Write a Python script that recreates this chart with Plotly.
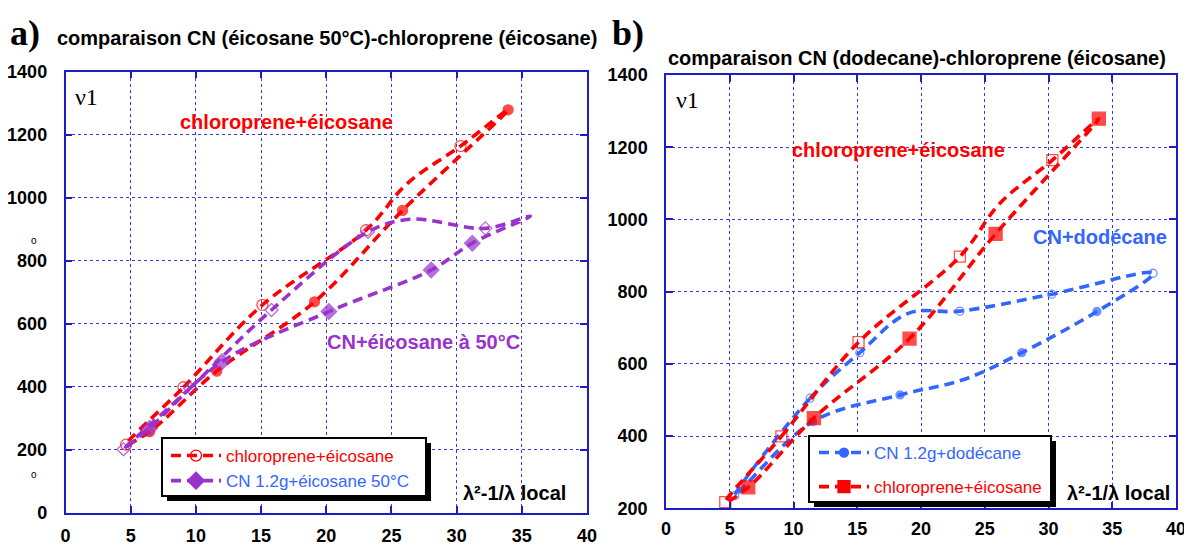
import plotly.graph_objects as go

W, H = 1192, 546
OFF = 8  # page body margin of the browser

# ---------------- data ----------------
# chloroprene + eicosane (same series in both panels), loop: loading (open) then unloading (filled)
chloro_x = [4.65, 9.05, 15.1, 23.05, 26.2, 30.3, 33.95, 25.85, 19.1, 11.6, 6.45, 4.65]
chloro_y = [217, 399, 660, 897, 1045, 1164, 1279, 960, 670, 450, 258, 217]
chloro_kind = ["open", "open", "open", "open", "none", "open", "filled",
               "filled", "filled", "filled", "filled", "none"]

# CN 1.2g + eicosane 50°C (panel a)
cn_eico_x = [4.45, 9.55, 15.8, 23.2, 26.5, 32.2, 35.65, 31.2, 28.05, 20.2, 12.0, 6.45, 4.45]
cn_eico_y = [202, 396, 644, 892, 932, 903, 942, 856, 771, 639, 480, 269, 202]
cn_eico_kind = ["open", "open", "open", "open", "none", "open", "none",
                "filled", "filled", "filled", "filled", "filled", "none"]

# CN 1.2g + dodecane (panel b)
cn_dode_x = [5.4, 11.3, 15.2, 19.0, 23.05, 30.25, 38.2, 33.8, 27.9, 23.3, 18.35, 11.5, 5.4]
cn_dode_y = [235, 505, 631, 740, 746, 793, 851, 745, 631, 556, 514, 440, 235]
cn_dode_kind = ["open", "open", "open", "none", "open", "open", "open",
                "filled", "filled", "none", "filled", "filled", "none"]

x_ticks = [0, 5, 10, 15, 20, 25, 30, 35, 40]
y_ticks_a = [0, 200, 400, 600, 800, 1000, 1200, 1400]
y_ticks_b = [200, 400, 600, 800, 1000, 1200, 1400]

title_a = "comparaison CN (éicosane 50°C)-chloroprene (éicosane)"
title_b = "comparaison CN (dodecane)-chloroprene (éicosane)"
name_chloro = "chloroprene+éicosane"
name_cn_eico = "CN 1.2g+éicosane 50°C"
name_cn_dode = "CN 1.2g+dodécane"

# ---------------- styles ----------------
RED = "#ff0000"
PURPLE = "#9933cc"
BLUE = "#3366ff"
AXIS = "#1c1cc8"
GRID = "#3a3ad8"
DASH = "10px,6px"
SANS = "Liberation Sans, Arial, sans-serif"
SERIF = "Liberation Serif, Times New Roman, serif"


def px(x):
    return (x - OFF) / W


def py(y):
    return 1 - (y - OFF) / H


def marker_style(kind, open_sym, fill_sym, open_size, fill_size, color):
    sym = [open_sym if k == "open" else fill_sym for k in kind]
    size = [open_size if k == "open" else (fill_size if k == "filled" else 0) for k in kind]
    return dict(symbol=sym, size=size, color=color, line=dict(color=color, width=1.3))


fig = go.Figure()


def add_series(x, y, kind, color, open_sym, fill_sym, osz, fsz, xa, ya):
    fig.add_trace(go.Scatter(
        x=x, y=y, mode="lines+markers", xaxis=xa, yaxis=ya, showlegend=False,
        line=dict(color=color, width=3.6, dash=DASH, shape="spline", smoothing=1),
        marker=marker_style(kind, open_sym, fill_sym, osz, fsz, color),
        hoverinfo="skip"))


# panel a
add_series(chloro_x, chloro_y, chloro_kind, RED, "circle-open", "circle", 11, 10, "x", "y")
add_series(cn_eico_x, cn_eico_y, cn_eico_kind, PURPLE, "diamond-open", "diamond", 10, 12, "x", "y")
# panel b
add_series(cn_dode_x, cn_dode_y, cn_dode_kind, BLUE, "circle-open", "circle", 8, 8, "x2", "y2")
add_series(chloro_x, chloro_y, chloro_kind, RED, "square-open", "square", 11, 13, "x2", "y2")


# legend entries
def legend_entry(name, line_color, text_color, sym, size, legend, group):
    fig.add_trace(go.Scatter(
        x=[None], y=[None], mode="lines+markers", legend=legend, legendgroup=group,
        name=f'<span style="color:{text_color}">{name}</span>',
        line=dict(color=line_color, width=3.6, dash=DASH),
        marker=dict(symbol=sym, size=size, color=line_color, line=dict(color=line_color, width=1.3)),
        xaxis="x", yaxis="y"))


legend_entry(name_chloro, RED, RED, "circle-open", 11, "legend", "a1")
legend_entry(name_cn_eico, PURPLE, BLUE, "diamond", 13, "legend", "a2")
legend_entry(name_cn_dode, BLUE, BLUE, "circle", 9, "legend2", "b1")
legend_entry(name_chloro, RED, RED, "square", 12, "legend2", "b2")

axis_common = dict(
    showline=True, linecolor=AXIS, linewidth=1.5, mirror="ticks",
    ticks="inside", ticklen=7, tickwidth=1.5, tickcolor=AXIS,
    showgrid=True, gridcolor=GRID, gridwidth=1, griddash="dot",
    zeroline=False, automargin=False,
    tickfont=dict(family=SANS, size=18, color="black", weight="bold"),
)

fig.update_layout(
    width=W, height=H,
    margin=dict(l=0, r=0, t=0, b=0, pad=0, autoexpand=False),
    paper_bgcolor="white", plot_bgcolor="white",
    xaxis=dict(domain=[px(65.5), px(587)], range=[0, 40], tickvals=x_ticks,
               anchor="y", ticklabelstandoff=6, **axis_common),
    yaxis=dict(domain=[py(513), py(71.7)], range=[0, 1400], tickvals=y_ticks_a,
               anchor="x", ticklabelstandoff=13, **axis_common),
    xaxis2=dict(domain=[px(666), px(1176)], range=[0, 40], tickvals=x_ticks,
                anchor="y2", ticklabelstandoff=3, **axis_common),
    yaxis2=dict(domain=[py(508.3), py(75)], range=[200, 1400], tickvals=y_ticks_b,
                anchor="x2", ticklabelstandoff=13, **axis_common),
    legend=dict(x=px(166), y=py(438), xanchor="left", yanchor="top",
                bgcolor="rgba(0,0,0,0)", borderwidth=0, itemwidth=50,
                font=dict(family=SANS, size=17, color="black"),
                tracegroupgap=0, traceorder="grouped"),
    legend2=dict(x=px(814), y=py(435), xanchor="left", yanchor="top",
                 bgcolor="rgba(0,0,0,0)", borderwidth=0, itemwidth=50,
                 font=dict(family=SANS, size=17, color="black"),
                 tracegroupgap=9, traceorder="grouped"),
    showlegend=True,
)

# legend boxes with drop shadow
shapes = []
for (x0, y0, x1, y1) in [(162, 438, 426, 496), (809, 436, 1051, 502)]:
    shapes.append(dict(type="rect", xref="paper", yref="paper", layer="above",
                       x0=px(x0 + 5), x1=px(x1 + 5), y0=py(y1 + 5), y1=py(y0 + 5),
                       fillcolor="black", line=dict(width=0)))
    shapes.append(dict(type="rect", xref="paper", yref="paper", layer="above",
                       x0=px(x0), x1=px(x1), y0=py(y1), y1=py(y0),
                       fillcolor="white", line=dict(color="black", width=2)))
fig.update_layout(shapes=shapes)


def note(text, x, y, size, color="black", family=SANS, weight="bold"):
    fig.add_annotation(text=text, x=px(x), y=py(y), xref="paper", yref="paper",
                       xanchor="left", yanchor="middle", showarrow=False,
                       font=dict(family=family, size=size, color=color, weight=weight))


note("a)", 8, 33, 36, family=SERIF)
note(title_a, 55, 38, 20)
note("b)", 610, 33, 36, family=SERIF)
note(title_b, 666, 58, 20)
note("ν1", 73, 97, 24, family=SERIF, weight="normal")
note("ν1", 674, 100, 24, family=SERIF, weight="normal")
note("chloroprene+éicosane", 178, 122, 20, RED)
note("chloroprene+éicosane", 790, 150, 20, RED)
note("CN+éicosane à 50°C", 325, 342, 20, PURPLE)
note("CN+dodécane", 1031, 237, 20, BLUE)
note("λ²-1/λ local", 461, 493, 20)
note("λ²-1/λ local", 1065, 493, 20)
note("o", 29, 240, 10, weight="normal")
note("o", 29, 474, 10, weight="normal")

fig.write_html("out.html")
